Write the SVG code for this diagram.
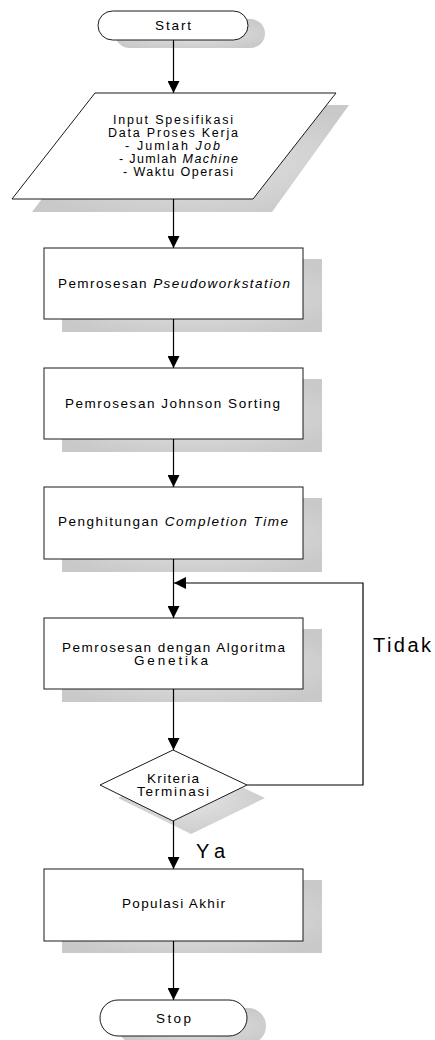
<svg xmlns="http://www.w3.org/2000/svg" width="435" height="1040" viewBox="0 0 435 1040">
<style>
.shape{fill:#ffffff;stroke:#1a1a1a;stroke-width:1}
.shadow{fill:url(#sh);stroke:none}
.line{fill:none;stroke:#000;stroke-width:1.2}
text{font-family:"Liberation Sans",Arial,sans-serif;fill:#000}
.t{font-size:13.5px}
.p{font-size:12.5px}
.big{font-size:20px}
.it{font-style:italic}
</style>
<defs>
<radialGradient id="sh" cx="0.5" cy="0.5" r="0.6">
<stop offset="0" stop-color="#e4e4e4"/>
<stop offset="1" stop-color="#c9c9c9"/>
</radialGradient>
<marker id="arr" markerWidth="12" markerHeight="12" viewBox="0 0 12 12" refX="12" refY="6" orient="auto" markerUnits="userSpaceOnUse">
<path d="M0,0 L12,6 L0,12 Z" fill="#000"/>
</marker>
</defs>
<g id="start">
<rect class="shadow" x="115" y="19" width="150" height="29" rx="14.5"/>
<rect class="shape" x="98" y="11" width="150" height="29" rx="14.5"/>
<text class="t" x="155" y="30" textLength="36" lengthAdjust="spacing">Start</text>
</g>
<g id="input">
<polygon class="shadow" points="113,105 349,105 272,212 32,212"/>
<polygon class="shape" points="95,93 336,93 253,199 12,199"/>
<text class="p" x="113" y="124" textLength="120" lengthAdjust="spacing">Input Spesifikasi</text>
<text class="p" x="108" y="137" textLength="130" lengthAdjust="spacing">Data Proses Kerja</text>
<text class="p" x="125" y="150" textLength="95" lengthAdjust="spacing">- Jumlah <tspan class="it">Job</tspan></text>
<text class="p" x="119" y="163" textLength="119" lengthAdjust="spacing">- Jumlah <tspan class="it">Machine</tspan></text>
<text class="p" x="123" y="176" textLength="110" lengthAdjust="spacing">- Waktu Operasi</text>
</g>
<g id="pseudo">
<rect class="shadow" x="62" y="259" width="260" height="73"/>
<rect class="shape" x="44" y="248" width="259" height="71"/>
<text class="t" x="58" y="288" textLength="232" lengthAdjust="spacing">Pemrosesan <tspan class="it">Pseudoworkstation</tspan></text>
</g>
<g id="johnson">
<rect class="shadow" x="62" y="379" width="260" height="73"/>
<rect class="shape" x="44" y="368" width="259" height="71"/>
<text class="t" x="65" y="408" textLength="215" lengthAdjust="spacing">Pemrosesan Johnson Sorting</text>
</g>
<g id="completion">
<rect class="shadow" x="62" y="498" width="260" height="74"/>
<rect class="shape" x="44" y="487" width="259" height="72"/>
<text class="t" x="58" y="526" textLength="230" lengthAdjust="spacing">Penghitungan <tspan class="it">Completion Time</tspan></text>
</g>
<g id="genetika">
<rect class="shadow" x="62" y="629" width="260" height="73"/>
<rect class="shape" x="44" y="618" width="259" height="71"/>
<text class="t" x="62" y="652" textLength="223" lengthAdjust="spacing">Pemrosesan dengan Algoritma</text>
<text class="t" x="134" y="665" textLength="74" lengthAdjust="spacing">Genetika</text>
</g>
<g id="kriteria">
<polygon class="shadow" points="191,763 265,798 191,834 118,798"/>
<polygon class="shape" points="173,750 247,785 173,821 100,785"/>
<text class="t" x="147" y="783" textLength="52" lengthAdjust="spacing">Kriteria</text>
<text class="t" x="137" y="796" textLength="72" lengthAdjust="spacing">Terminasi</text>
</g>
<g id="populasi">
<rect class="shadow" x="62" y="880" width="260" height="73"/>
<rect class="shape" x="44" y="869" width="259" height="72"/>
<text class="t" x="122" y="908" textLength="103" lengthAdjust="spacing">Populasi Akhir</text>
</g>
<g id="stop">
<rect class="shadow" x="118" y="1008" width="148" height="36" rx="18"/>
<rect class="shape" x="100" y="1000" width="147" height="36" rx="18"/>
<text class="t" x="156" y="1023" textLength="35" lengthAdjust="spacing">Stop</text>
</g>
<g id="connectors">
<line class="line" x1="173.5" y1="40" x2="173.5" y2="93" marker-end="url(#arr)"/>
<line class="line" x1="173.5" y1="199" x2="173.5" y2="248" marker-end="url(#arr)"/>
<line class="line" x1="173.5" y1="319" x2="173.5" y2="368" marker-end="url(#arr)"/>
<line class="line" x1="173.5" y1="439" x2="173.5" y2="487" marker-end="url(#arr)"/>
<line class="line" x1="173.5" y1="559" x2="173.5" y2="618" marker-end="url(#arr)"/>
<line class="line" x1="173.5" y1="689" x2="173.5" y2="750" marker-end="url(#arr)"/>
<line class="line" x1="173.5" y1="821" x2="173.5" y2="869" marker-end="url(#arr)"/>
<line class="line" x1="173.5" y1="941" x2="173.5" y2="1000" marker-end="url(#arr)"/>
<polyline class="line" points="247,785 363,785 363,583 174,583" marker-end="url(#arr)"/>
<text class="big" x="196" y="858" textLength="29" lengthAdjust="spacing">Ya</text>
<text class="big" x="373" y="652" textLength="58" lengthAdjust="spacing">Tidak</text>
</g>
</svg>
